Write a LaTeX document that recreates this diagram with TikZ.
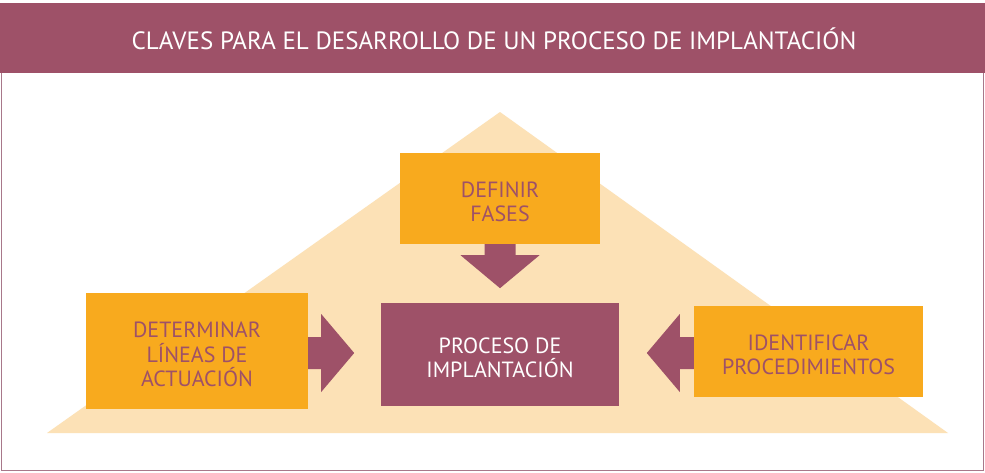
\documentclass[tikz,border=0pt]{standalone}
\usepackage{fontspec}
\setmainfont{PT Sans}
\begin{document}
\definecolor{plum}{HTML}{9E5168}
\definecolor{amber}{HTML}{F8AA1E}
\definecolor{sand}{HTML}{FCE1B6}
\definecolor{framec}{HTML}{A8788A}
\begin{tikzpicture}[x=1pt,y=-1pt,
  orangebox/.style={fill=amber,draw=none,inner sep=0pt},
  plumbox/.style={fill=plum,draw=none,inner sep=0pt},
  orangetext/.style={inner sep=0pt,align=center,font=\fontsize{22}{24.5}\selectfont,text=plum,yshift=-3.5pt},
  plumtext/.style={inner sep=0pt,align=center,font=\fontsize{22}{24}\selectfont,text=white,yshift=-3.5pt},
  blockarrow/.style={fill=plum,draw=none}]
\useasboundingbox (0,0) rectangle (985,472);
\fill[white] (0,0) rectangle (985,472);
% frame and header
\draw[framec,line width=1pt] (1,3) rectangle (983.5,470.5);
\fill[plum] (0,3) rectangle (985,73);
\node[text=white,font=\fontsize{25}{27}\selectfont,anchor=base,inner sep=0pt] (title) at (494,49) {CLAVES PARA EL DESARROLLO DE UN PROCESO DE IMPLANTACIÓN};
% background triangle
\fill[sand] (47,433) -- (500,112) -- (948,433) -- cycle;
% boxes
\node[orangebox,minimum width=200pt,minimum height=91pt] (fases) at (500,198.5) {};
\node[plumbox,minimum width=238pt,minimum height=103pt] (proceso) at (500,354.5) {};
\node[orangebox,minimum width=222pt,minimum height=116pt] (lineas) at (197,351) {};
\node[orangebox,minimum width=229pt,minimum height=91pt] (proced) at (808.5,351.5) {};
\node[orangetext] (fasesT) at (fases.center) {DEFINIR\\FASES};
\node[plumtext] (procesoT) at (proceso.center) {PROCESO DE\\IMPLANTACIÓN};
\node[orangetext] (lineasT) at (lineas.center) {DETERMINAR\\LÍNEAS DE\\ACTUACIÓN};
\node[orangetext] (procedT) at (proced.center) {IDENTIFICAR\\PROCEDIMIENTOS};
% block arrows
\fill[blockarrow] (fases.south) ++(-15.5,0) -- ++(0,11) -- ++(-24,0) -- ++(39.5,33) -- ++(39.5,-33) -- ++(-24,0) -- ++(0,-11) -- cycle;
\fill[blockarrow] (lineas.east) ++(0,-14) -- ++(13,0) -- ++(0,-23) -- ++(33,39) -- ++(-33,39) -- ++(0,-23) -- ++(-13,0) -- cycle;
\fill[blockarrow] (proced.west) ++(0,-14.5) -- ++(-14,0) -- ++(0,-23) -- ++(-33,39) -- ++(33,39) -- ++(0,-23) -- ++(14,0) -- cycle;
\end{tikzpicture}
\end{document}
